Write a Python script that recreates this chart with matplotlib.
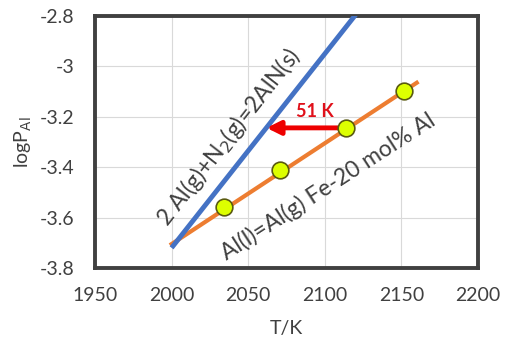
import matplotlib
matplotlib.use("Agg")
import matplotlib.pyplot as plt

plt.rcParams['font.family'] = ['Lato', 'DejaVu Sans']

# AlN formation line
aln_T = [2000, 2130]
aln_logP = [-3.72, -2.719]

# Al(l)=Al(g) over Fe-20 mol% Al
feal_T = [2000, 2160]
feal_logP = [-3.705, -3.065]

# calculated points
pts_T = [2034, 2071, 2114, 2152]
pts_logP = [-3.558, -3.411, -3.244, -3.098]

# arrow (shift of temperature)
arrow_from = (2114, -3.244)
arrow_to = (2062, -3.244)

fig = plt.figure(figsize=(5.06, 3.38), dpi=100)
ax = fig.add_axes([0.1877, 0.2071, 0.757, 0.7456])

ax.plot(aln_T, aln_logP, color='#4472C4', lw=3.5, solid_capstyle='butt', zorder=3)
ax.plot(feal_T, feal_logP, color='#ED7D31', lw=3, zorder=2)
ax.plot(pts_T, pts_logP, 'o', ms=12, mfc='#DDFF00', mec='#5a5a10', mew=1.2, zorder=5)

ax.annotate('', xy=arrow_to, xytext=arrow_from,
            arrowprops=dict(arrowstyle='-|>,head_length=0.8,head_width=0.4',
                            color='#EE0000', lw=3.5, shrinkA=6, shrinkB=0),
            zorder=4)
ax.text(2093.5, -3.18, '51 K', color='#E0101A', fontsize=13, fontweight='bold',
        ha='center', va='center')

ax.text(2037, -3.28, r'2 Al(g)+N$_2$(g)=2AlN(s)', rotation=52, fontsize=16.5,
        color='#404040', ha='center', va='center', rotation_mode='anchor')
ax.text(2102, -3.475, 'Al(l)=Al(g) Fe-20 mol% Al', rotation=33, fontsize=16.5,
        color='#404040', ha='center', va='center', rotation_mode='anchor')

ax.set_xlim(1950, 2200)
ax.set_ylim(-3.8, -2.8)
ax.set_xticks([1950, 2000, 2050, 2100, 2150, 2200])
ax.set_yticks([-3.8, -3.6, -3.4, -3.2, -3.0, -2.8])
ax.set_yticklabels(['-3.8', '-3.6', '-3.4', '-3.2', '-3', '-2.8'])
ax.grid(True, color='#d9d9d9', lw=0.8)
ax.set_axisbelow(True)
ax.tick_params(axis='x', length=0, labelsize=14, colors='#404040', pad=14)
ax.tick_params(axis='y', length=0, labelsize=14, colors='#404040', pad=15)
for s in ax.spines.values():
    s.set_color('#404040')
    s.set_linewidth(2.8)

ax.set_xlabel('T/K', fontsize=14, color='#404040', labelpad=11)
ax.set_ylabel(r'logP$_{\rm Al}$', fontsize=14, color='#404040', labelpad=4)

fig.savefig('out.png', dpi=100)
